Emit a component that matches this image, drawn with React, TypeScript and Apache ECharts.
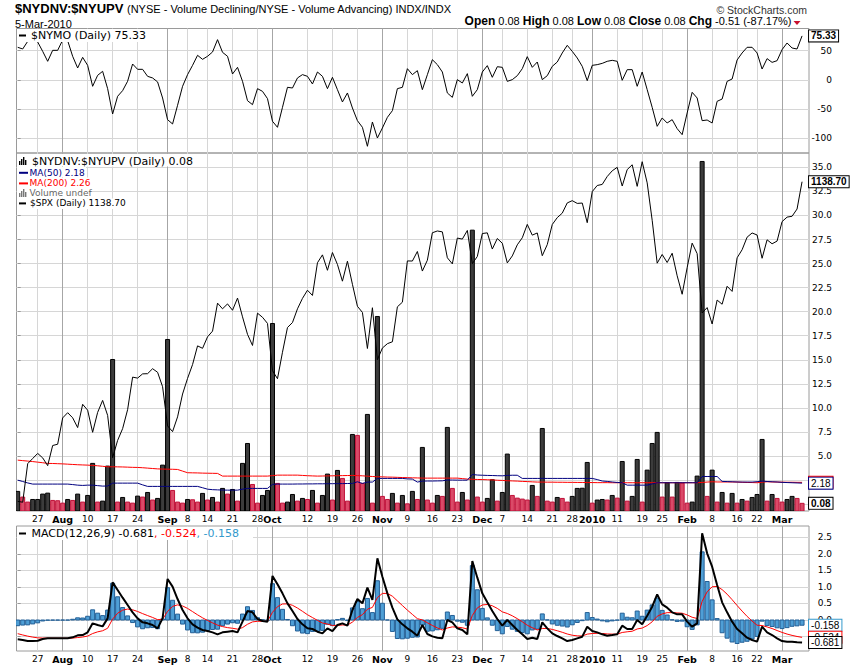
import React, { useEffect, useRef } from "react";
import * as echarts from "echarts";

// ---------- trading days (categories) ----------
const julDays = [21, 22, 23, 24, 27, 28, 29, 30, 31];
const augDays = [3, 4, 5, 6, 7, 10, 11, 12, 13, 14, 17, 18, 19, 20, 21, 24, 25, 26, 27, 28, 31];
const sepDays = [1, 2, 3, 4, 8, 9, 10, 11, 14, 15, 16, 17, 18, 21, 22, 23, 24, 25, 28, 29, 30];
const octDays = [1, 2, 5, 6, 7, 8, 9, 12, 13, 14, 15, 16, 19, 20, 21, 22, 23, 26, 27, 28, 29, 30];
const novDays = [2, 3, 4, 5, 6, 9, 10, 11, 12, 13, 16, 17, 18, 19, 20, 23, 24, 25, 27, 30];
const decDays = [1, 2, 3, 4, 7, 8, 9, 10, 11, 14, 15, 16, 17, 18, 21, 22, 23, 24, 28, 29, 30, 31];
const janDays = [4, 5, 6, 7, 8, 11, 12, 13, 14, 15, 19, 20, 21, 22, 25, 26, 27, 28, 29];
const febDays = [1, 2, 3, 4, 5, 8, 9, 10, 11, 12, 16, 17, 18, 19, 22, 23, 24, 25, 26];
const marDays = [1, 2, 3, 4, 5];

const pad = (d: number) => (d < 10 ? "0" + d : "" + d);
const block = (ym: string, days: number[]) => days.map((d) => `${ym}-${pad(d)}`);
const dates = [
  ...block("2009-07", julDays), ...block("2009-08", augDays), ...block("2009-09", sepDays),
  ...block("2009-10", octDays), ...block("2009-11", novDays), ...block("2009-12", decDays),
  ...block("2010-01", janDays), ...block("2010-02", febDays), ...block("2010-03", marDays),
];

// ---------- x tick labels ----------
const tickDates = [
  "2009-07-27", "2009-08-03", "2009-08-10", "2009-08-17", "2009-08-24", "2009-09-01", "2009-09-08",
  "2009-09-14", "2009-09-21", "2009-09-28", "2009-10-01", "2009-10-12", "2009-10-19", "2009-10-26",
  "2009-11-02", "2009-11-09", "2009-11-16", "2009-11-23", "2009-12-01", "2009-12-07", "2009-12-14",
  "2009-12-21", "2009-12-28", "2010-01-04", "2010-01-11", "2010-01-19", "2010-01-25", "2010-02-01",
  "2010-02-08", "2010-02-16", "2010-02-22", "2010-03-01",
];
const tickTexts = [
  "27", "Aug", "10", "17", "24", "Sep", "8", "14", "21", "28", "Oct", "12", "19", "26", "Nov", "9",
  "16", "23", "Dec", "7", "14", "21", "28", "2010", "11", "19", "25", "Feb", "8", "16", "22", "Mar",
];

// ---------- y ticks ----------
const nymoTicks = [-100, -50, 0, 50];
const ratioTicks = [0, 2.5, 5, 7.5, 10, 12.5, 15, 17.5, 20, 22.5, 25, 27.5, 30, 32.5, 35];
const ratioLabels = [5, 7.5, 10, 12.5, 15, 17.5, 20, 22.5, 25, 27.5, 30, 32.5, 35];
const macdTicks = [-0.5, 0, 0.5, 1, 1.5, 2, 2.5];
const macdLabels = [0, 0.5, 1, 1.5, 2, 2.5];

// ---------- series values ----------
const nymo = [
  55.8, 52.9, 66.0, 80.3, 64.9, 48.9, 31.8, 50.6, 50.6, 68.3,
  67.2, 40.4, 20.4, 38.6, 24.9, -11.0, 7.8, 14.7, -15.0, -58.4,
  -28.1, -18.4, -2.4, 27.2, 18.1, 18.1, 6.1, 3.3, -3.5, -31.0,
  -68.1, -75.5, -43.5, -11.0, 9.0, 24.9, 42.1, 35.2, 40.4, 47.8,
  68.9, 47.2, 40.4, 10.1, 21.5, -2.4, -35.6, -42.4, -15.0, -19.6,
  -32.1, -70.9, -81.2, -47.0, -12.7, -13.9, 3.3, 9.0, 6.1, -7.0,
  13.5, 6.1, -15.0, 4.4, -16.7, -37.8, -22.4, -48.1, -69.8, -81.2,
  -113.7, -72.1, -99.5, -82.4, -64.1, -52.7, -15.0, -12.7, 19.2, 9.0,
  15.8, -16.7, 8.9, 34.6, 26.1, 13.5, -22.4, -29.9, 0.4, -5.3,
  10.7, -28.1, -16.7, 13.5, 24.4, 4.4, 22.6, 21.5, -2.5, 0.4,
  7.2, 19.2, 39.8, 21.5, 30.6, 0.4, 7.2, 23.2, 30.6, 46.1,
  59.2, 48.9, 37.5, 23.2, -1.3, 24.9, 26.1, 28.3, 31.8, 33.5,
  31.8, -0.7, 17.5, 17.5, -11.0, 13.5, -16.7, -47.0, -79.5, -65.2,
  -73.8, -68.1, -83.5, -93.8, -56.7, -21.3, -31.0, -69.8, -68.7, -73.8,
  -36.7, -32.8, -2.5, 1.5, 34.1, 46.1, 55.8, 55.8, 46.1, 18.6,
  36.4, 30.0, 32.9, 51.8, 63.2, 54.6, 52.9, 75.33,
];

const ratio = [
  1.32, 0.73, 0.21, 0.48, 0.48, 1.04, 1.14, 0.38, 0.35, 0.10,
  0.48, 0.38, 1.04, 0.21, 0.90, 4.23, 0.21, 0.31, 3.95, 15.03,
  0.21, 0.69, 0.21, 0.10, 0.83, 0.73, 1.21, 0.42, 0.59, 4.05,
  17.11, 1.42, 0.21, 0.10, 0.48, 0.45, 0.21, 1.11, 0.42, 0.69,
  0.21, 1.63, 1.04, 1.52, 0.31, 4.23, 6.30, 2.04, 0.10, 0.90,
  1.42, 18.77, 2.15, 0.10, 0.21, 1.00, 0.31, 0.59, 0.48, 1.42,
  0.10, 0.90, 3.12, 0.42, 3.50, 2.67, 0.31, 7.24, 7.14, 2.15,
  9.32, 0.10, 19.50, 0.80, 0.48, 1.11, 0.10, 0.90, 0.03, 1.32,
  0.48, 5.89, 0.42, 0.10, 0.90, 0.80, 7.97, 1.63, 0.21, 1.21,
  0.42, 28.47, 0.73, 0.21, 0.59, 2.53, 0.31, 1.21, 5.20, 0.90,
  0.62, 0.52, 0.42, 1.94, 0.80, 7.86, 0.31, 0.21, 0.69, 0.59,
  0.21, 0.80, 1.63, 1.65, 4.33, 0.10, 0.42, 0.48, 0.42, 0.90,
  0.62, 4.43, 0.31, 0.80, 4.64, 0.21, 3.53, 6.30, 7.45, 0.73,
  2.22, 0.73, 2.25, 2.18, 0.10, 0.21, 2.91, 35.61, 0.80, 3.53,
  0.21, 1.21, 0.10, 1.11, 0.10, 0.48, 0.31, 0.69, 1.00, 6.72,
  0.31, 1.00, 0.59, 0.21, 0.48, 0.80, 0.59, 0.08,
];

const ma50 = [
  2.49, 2.35, 2.20, 2.08, 2.08, 2.08, 2.08, 2.08, 2.08, 2.08,
  2.08, 2.03, 1.97, 1.94, 1.97, 1.97, 1.92, 1.87, 1.88, 2.18,
  2.18, 2.18, 2.18, 2.18, 2.18, 2.00, 1.84, 1.84, 1.84, 1.84,
  1.84, 1.84, 1.84, 1.84, 1.84, 1.84, 1.84, 1.70, 1.55, 1.50,
  1.48, 1.46, 1.45, 1.45, 1.45, 1.55, 1.63, 1.63, 1.63, 1.63,
  1.63, 2.05, 2.08, 2.08, 2.08, 2.08, 2.09, 2.09, 2.10, 2.10,
  2.11, 2.11, 2.12, 2.12, 2.13, 2.13, 2.14, 2.15, 2.32, 2.15,
  2.29, 2.29, 2.67, 2.67, 2.67, 2.67, 2.67, 2.67, 2.62, 2.60,
  2.29, 2.39, 2.40, 2.40, 2.41, 2.42, 2.50, 2.50, 2.49, 2.49,
  2.49, 3.08, 3.02, 3.00, 2.98, 2.97, 2.95, 2.94, 2.98, 3.00,
  3.00, 2.67, 2.67, 2.67, 2.67, 2.67, 2.67, 2.67, 2.67, 2.67,
  2.67, 2.67, 2.67, 2.67, 2.67, 2.67, 2.55, 2.40, 2.36, 2.30,
  2.25, 2.22, 1.97, 1.97, 1.97, 1.97, 1.97, 2.10, 2.22, 2.22,
  2.22, 2.22, 2.22, 2.22, 2.22, 2.22, 2.22, 2.87, 2.87, 2.87,
  2.87, 2.36, 2.34, 2.32, 2.30, 2.29, 2.29, 2.29, 2.33, 2.39,
  2.35, 2.32, 2.30, 2.26, 2.24, 2.22, 2.20, 2.18,
];

const ma200 = [
  4.57, 4.52, 4.47, 4.42, 4.36, 4.30, 4.23, 4.22, 4.20, 4.18,
  4.15, 4.12, 4.09, 4.07, 4.05, 4.02, 3.98, 3.93, 3.88, 3.88,
  3.87, 3.86, 3.84, 3.82, 3.81, 3.78, 3.74, 3.70, 3.66, 3.64,
  3.63, 3.62, 3.60, 3.43, 3.26, 3.25, 3.24, 3.22, 3.21, 3.20,
  3.19, 2.91, 2.91, 2.91, 2.91, 2.91, 2.91, 2.91, 2.91, 2.91,
  2.91, 2.96, 3.01, 3.01, 3.01, 3.01, 3.01, 2.98, 2.95, 2.93,
  2.91, 2.92, 2.93, 2.94, 2.95, 2.96, 2.97, 2.98, 2.96, 2.94,
  2.90, 2.87, 2.84, 2.83, 2.81, 2.80, 2.78, 2.76, 2.75, 2.73,
  2.72, 2.70, 2.70, 2.70, 2.70, 2.70, 2.70, 2.70, 2.70, 2.65,
  2.60, 2.58, 2.56, 2.55, 2.53, 2.51, 2.48, 2.46, 2.43, 2.41,
  2.39, 2.36, 2.34, 2.31, 2.29, 2.29, 2.28, 2.28, 2.27, 2.27,
  2.26, 2.26, 2.25, 2.25, 2.24, 2.24, 2.23, 2.23, 2.23, 2.22,
  2.22, 2.22, 2.22, 2.22, 2.22, 2.22, 2.22, 2.22, 2.22, 2.22,
  2.22, 2.22, 2.22, 2.22, 2.22, 2.22, 2.22, 2.25, 2.29, 2.32,
  2.30, 2.30, 2.30, 2.30, 2.29, 2.27, 2.25, 2.24, 2.22, 2.28,
  2.32, 2.30, 2.29, 2.28, 2.27, 2.27, 2.26, 2.26,
];

const spx = [
  954.58, 954.07, 976.29, 979.26, 982.18, 979.62, 975.15, 986.75, 987.48, 1002.63,
  1005.65, 1002.72, 997.08, 1010.48, 1007.1, 994.35, 1005.81, 1012.73, 1004.09, 979.73,
  989.67, 996.46, 1007.37, 1026.13, 1025.57, 1028.0, 1028.12, 1030.98, 1028.93, 1020.62,
  998.04, 994.75, 1003.24, 1016.4, 1025.39, 1033.37, 1044.14, 1042.73, 1049.34, 1052.63,
  1068.76, 1065.49, 1068.3, 1064.66, 1071.66, 1060.87, 1050.78, 1044.38, 1062.98, 1060.61,
  1057.08, 1029.85, 1025.21, 1040.46, 1054.72, 1057.58, 1065.48, 1071.49, 1076.19, 1073.19,
  1092.02, 1096.56, 1087.68, 1097.91, 1091.06, 1081.4, 1092.91, 1079.6, 1066.95, 1063.41,
  1042.63, 1066.11, 1036.19, 1042.88, 1045.41, 1046.5, 1066.63, 1069.3, 1093.08, 1093.01,
  1098.51, 1087.24, 1093.48, 1109.3, 1110.32, 1109.8, 1094.9, 1091.38, 1106.24, 1105.65,
  1110.63, 1091.49, 1095.63, 1108.86, 1109.24, 1099.92, 1105.98, 1103.25, 1091.94, 1095.95,
  1102.35, 1106.41, 1114.11, 1107.93, 1109.18, 1096.08, 1102.47, 1114.05, 1118.02, 1120.59,
  1126.48, 1127.78, 1126.2, 1126.42, 1115.1, 1132.99, 1136.52, 1137.14, 1141.69, 1144.98,
  1146.98, 1136.22, 1145.68, 1148.46, 1136.03, 1150.23, 1138.04, 1116.48, 1091.76, 1096.78,
  1092.17, 1097.5, 1084.53, 1073.87, 1089.19, 1103.32, 1097.28, 1063.11, 1066.19, 1056.74,
  1070.52, 1068.13, 1078.47, 1075.51, 1094.87, 1099.51, 1106.75, 1109.17, 1108.01, 1094.6,
  1105.24, 1102.94, 1104.49, 1115.71, 1118.31, 1118.79, 1122.97, 1138.7,
];

const macd = [
  -0.585, -0.605, -0.635, -0.635, -0.625, -0.575, -0.554, -0.554, -0.554, -0.554,
  -0.554, -0.524, -0.464, -0.454, -0.373, -0.101, -0.151, -0.192, 0.050, 1.139,
  0.907, 0.675, 0.454, 0.232, 0.050, -0.071, -0.101, -0.151, -0.252, 0.050,
  1.240, 1.008, 0.635, 0.302, 0.050, -0.131, -0.232, -0.302, -0.333, -0.373,
  -0.433, -0.373, -0.353, -0.333, -0.373, -0.050, 0.272, 0.232, 0.030, -0.030,
  -0.050, 1.331, 1.079, 0.806, 0.504, 0.272, 0.030, -0.131, -0.252, -0.272,
  -0.353, -0.403, -0.252, -0.333, -0.151, -0.101, -0.171, 0.302, 0.635, 0.504,
  0.978, 0.605, 1.865, 1.310, 0.806, 0.373, 0.020, -0.131, -0.252, -0.353,
  -0.474, -0.151, -0.423, -0.494, -0.534, -0.554, 0.000, -0.071, -0.252, -0.302,
  -0.433, 1.784, 1.280, 0.806, 0.534, 0.272, 0.030, -0.171, 0.000, -0.151,
  -0.302, -0.433, -0.575, -0.534, -0.575, -0.071, -0.252, -0.403, -0.484, -0.554,
  -0.635, -0.605, -0.554, -0.504, -0.202, -0.333, -0.373, -0.433, -0.474, -0.454,
  -0.433, -0.171, -0.272, -0.272, 0.000, -0.131, 0.131, 0.403, 0.776, 0.474,
  0.373, 0.232, 0.171, 0.171, -0.050, -0.202, -0.101, 2.621, 2.016, 1.613,
  1.058, 0.534, 0.232, -0.050, -0.272, -0.403, -0.534, -0.605, -0.655, -0.202,
  -0.373, -0.454, -0.554, -0.635, -0.655, -0.655, -0.675, -0.681,
];

const signal = [
  -0.413, -0.452, -0.488, -0.517, -0.539, -0.546, -0.547, -0.549, -0.550, -0.551,
  -0.551, -0.546, -0.530, -0.514, -0.486, -0.409, -0.358, -0.325, -0.249, 0.028,
  0.205, 0.298, 0.330, 0.309, 0.258, 0.193, 0.134, 0.077, 0.011, 0.019,
  0.263, 0.412, 0.457, 0.425, 0.351, 0.254, 0.157, 0.066, -0.014, -0.086,
  -0.155, -0.199, -0.230, -0.250, -0.275, -0.230, -0.129, -0.057, -0.039, -0.038,
  -0.040, 0.234, 0.403, 0.484, 0.488, 0.445, 0.362, 0.263, 0.160, 0.074,
  -0.012, -0.090, -0.123, -0.164, -0.162, -0.150, -0.154, -0.063, 0.077, 0.162,
  0.326, 0.381, 0.678, 0.804, 0.805, 0.719, 0.579, 0.438, 0.299, 0.169,
  0.040, 0.002, -0.083, -0.165, -0.239, -0.302, -0.242, -0.208, -0.217, -0.234,
  -0.274, 0.138, 0.366, 0.455, 0.470, 0.430, 0.351, 0.246, 0.197, 0.127,
  0.041, -0.053, -0.158, -0.233, -0.301, -0.255, -0.255, -0.284, -0.325, -0.371,
  -0.423, -0.460, -0.479, -0.484, -0.427, -0.408, -0.401, -0.407, -0.421, -0.427,
  -0.428, -0.377, -0.356, -0.340, -0.271, -0.244, -0.168, -0.054, 0.112, 0.184,
  0.222, 0.224, 0.214, 0.205, 0.154, 0.083, 0.046, 0.561, 0.852, 1.004,
  1.015, 0.919, 0.781, 0.615, 0.438, 0.269, 0.109, -0.034, -0.158, -0.167,
  -0.209, -0.258, -0.318, -0.375, -0.425, -0.465, -0.498, -0.524,
];

const hist = [
  -0.172, -0.153, -0.147, -0.118, -0.086, -0.029, -0.007, -0.005, -0.004, -0.003,
  -0.003, 0.022, 0.066, 0.060, 0.113, 0.308, 0.207, 0.133, 0.299, 1.111,
  0.702, 0.377, 0.124, -0.077, -0.208, -0.264, -0.235, -0.228, -0.263, 0.031,
  0.977, 0.596, 0.178, -0.123, -0.301, -0.385, -0.389, -0.368, -0.319, -0.287,
  -0.278, -0.174, -0.123, -0.083, -0.098, 0.180, 0.401, 0.289, 0.069, 0.008,
  -0.010, 1.097, 0.676, 0.322, 0.016, -0.173, -0.332, -0.394, -0.412, -0.346,
  -0.341, -0.313, -0.129, -0.169, 0.011, 0.049, -0.017, 0.365, 0.558, 0.342,
  0.652, 0.224, 1.187, 0.506, 0.001, -0.346, -0.559, -0.569, -0.551, -0.522,
  -0.514, -0.153, -0.340, -0.329, -0.295, -0.252, 0.242, 0.137, -0.035, -0.068,
  -0.159, 1.646, 0.914, 0.351, 0.064, -0.158, -0.321, -0.417, -0.197, -0.278,
  -0.343, -0.380, -0.417, -0.301, -0.274, 0.184, 0.003, -0.119, -0.159, -0.183,
  -0.212, -0.145, -0.075, -0.020, 0.225, 0.075, 0.028, -0.026, -0.053, -0.027,
  -0.005, 0.206, 0.084, 0.068, 0.271, 0.113, 0.299, 0.457, 0.664, 0.290,
  0.151, 0.008, -0.043, -0.034, -0.204, -0.285, -0.147, 2.060, 1.164, 0.609,
  0.043, -0.385, -0.549, -0.665, -0.710, -0.672, -0.643, -0.571, -0.497, -0.035,
  -0.164, -0.196, -0.236, -0.260, -0.230, -0.190, -0.177, -0.158,
];

// ---------- layout / style constants ----------
const FONT = "'DejaVu Sans', Verdana, sans-serif";
const AFONT = "'Liberation Sans', Arial, sans-serif";
const GL = 16.5;
const GW = 792.5;
const X_MIN = -0.24;
const X_MAX = 158.39;

const tickIdx = tickDates.map((d) => dates.indexOf(d));
const tickBold = tickTexts.map((t) => isNaN(Number(t)) || t === "2010");
const splitColors = tickBold.map((b) => (b ? "#a6a6a6" : "#d6d6d6"));

const pairs = (arr: number[]) => arr.map((v, i) => [i, v]);

function xAxisFor(g: number, showLabels: boolean) {
  return {
    type: "value",
    gridIndex: g,
    min: X_MIN,
    max: X_MAX,
    axisLine: { show: false },
    axisTick: { show: false, customValues: tickIdx },
    axisLabel: {
      show: showLabels,
      customValues: tickIdx,
      margin: 3,
      color: "#000",
      fontFamily: FONT,
      fontSize: 9,
      formatter: (v: number) => {
        const k = tickIdx.indexOf(Math.round(v));
        if (k < 0) return "";
        return tickBold[k] ? `{b|${tickTexts[k]}}` : tickTexts[k];
      },
      rich: { b: { fontFamily: FONT, fontSize: 9.5, fontWeight: "bold", color: "#000" } },
    },
    splitLine: { show: true, lineStyle: { color: splitColors, width: 1 } },
  };
}

function yAxisFor(g: number, min: number, max: number, ticks: number[], labels: number[], fmt: (v: number) => string) {
  return {
    type: "value",
    gridIndex: g,
    position: "right",
    min,
    max,
    axisLine: { show: false },
    axisTick: { show: true, customValues: ticks, length: 3, lineStyle: { color: "#999" } },
    axisLabel: {
      show: true,
      customValues: labels,
      formatter: fmt,
      align: "right",
      margin: 23,
      color: "#000",
      fontFamily: FONT,
      fontSize: 9,
    },
    splitLine: { show: true, lineStyle: { color: "#d6d6d6", width: 1 } },
  };
}

function endBox(border: string, bold: boolean, digits: number) {
  return {
    show: true,
    formatter: (p: any) => Number(p.value[1]).toFixed(digits),
    distance: 7,
    color: "#000",
    fontFamily: AFONT,
    fontSize: 10,
    fontWeight: bold ? "bold" : "normal",
    backgroundColor: "#fff",
    borderColor: border,
    borderWidth: 1,
    padding: [1, 2, 0, 2],
    lineHeight: 10,
  };
}

function lineSeries(name: string, xi: number, yi: number, data: number[], color: string, width: number, label: any) {
  return {
    type: "line",
    name,
    xAxisIndex: xi,
    yAxisIndex: yi,
    data: pairs(data),
    symbol: "none",
    showSymbol: false,
    lineStyle: { color, width },
    itemStyle: { color },
    endLabel: label,
    silent: true,
  };
}

function txt(x: number, y: number, text: string, font: string, fill: string, align = "left", extra: any = {}) {
  return {
    type: "text",
    x,
    y,
    z: 100,
    silent: true,
    style: {
      text,
      font,
      fill,
      align,
      textAlign: align,
      verticalAlign: "middle",
      textVerticalAlign: "middle",
      ...extra,
    },
  };
}

function box(x: number, y: number, w: number, h: number, fill: string, z = 100) {
  return { type: "rect", z, silent: true, shape: { x, y, width: w, height: h }, style: { fill } };
}

function barIcon(x: number, bottom: number, color: string) {
  const hs = [4, 6, 8, 5];
  return hs.map((h, k) => box(x + k * 2, bottom - h, 1.4, h, color));
}

function buildOption() {
  const grids = [
    { top: 28.5, height: 124.5 },
    { top: 153, height: 358 },
    { top: 526, height: 125 },
  ].map((g) => ({
    ...g,
    left: GL,
    width: GW,
    show: true,
    borderColor: "#9a9a9a",
    borderWidth: 1,
    backgroundColor: "transparent",
    containLabel: false,
  }));

  const barItem = (params: any, api: any) => {
    const i = api.value(0);
    const v = api.value(1);
    const top = api.coord([i, v]);
    const cs = params.coordSys;
    const bottom = cs.y + cs.height;
    const w = api.size([1, 0])[0] * 0.8;
    const up = i === 0 || v >= ratio[i - 1];
    return {
      type: "rect",
      shape: { x: top[0] - w / 2, y: top[1], width: w, height: bottom - top[1] },
      style: {
        fill: up ? "#3c3c3c" : "#da4a68",
        stroke: up ? "#000000" : "#c01038",
        lineWidth: 1,
      },
    };
  };

  const histItem = (params: any, api: any) => {
    const i = api.value(0);
    const v = api.value(1);
    const p1 = api.coord([i, v]);
    const p0 = api.coord([i, 0]);
    const w = api.size([1, 0])[0] * 0.8;
    return {
      type: "rect",
      shape: { x: p1[0] - w / 2, y: Math.min(p0[1], p1[1]), width: w, height: Math.abs(p0[1] - p1[1]) },
      style: { fill: "#4f9fd6", stroke: "#235f96", lineWidth: 1 },
    };
  };

  const last = (a: number[]) => a[a.length - 1];

  const graphics: any[] = [
    // header
    txt(15, 8, "$NYDNV:$NYUPV", `bold 13px ${AFONT}`, "#000"),
    txt(127, 9, "(NYSE - Volume Declining/NYSE - Volume Advancing) INDX/INDX", `11px ${AFONT}`, "#000"),
    txt(15, 23.7, "5-Mar-2010", `11px ${AFONT}`, "#000"),
    txt(807, 9.5, "\u00a9 StockCharts.com", `10.5px ${AFONT}`, "#333", "right"),
    txt(
      791.5,
      20.5,
      "{b|Open} 0.08 {b|High} 0.08 {b|Low} 0.08 {b|Close} 0.08 {b|Chg} -0.51 (-87.17%)",
      `11px ${AFONT}`,
      "#000",
      "right",
      { rich: { b: { font: `bold 12px ${AFONT}`, fill: "#000" } } }
    ),
    { type: "polygon", z: 100, silent: true, shape: { points: [[793.5, 21], [800.5, 21], [797, 25]] }, style: { fill: "#c8102e" } },

    // top panel legend
    box(17, 29, 131, 13, "#fff", 90),
    box(19, 34.5, 7, 2, "#000"),
    txt(31, 35.5, `$NYMO (Daily) ${last(nymo).toFixed(2)}`, `11px ${FONT}`, "#000"),

    // main panel legend
    box(17, 154, 177, 12.5, "#fff", 90),
    box(17, 167, 69, 10.5, "#fff", 90),
    box(17, 177.5, 75, 10.5, "#fff", 90),
    box(17, 188, 72, 10.5, "#fff", 90),
    box(17, 198.5, 111, 10.5, "#fff", 90),
    ...barIcon(19, 165, "#000"),
    txt(32, 161.2, `$NYDNV:$NYUPV (Daily) ${last(ratio).toFixed(2)}`, `11px ${FONT}`, "#000"),
    box(19, 171.8, 9, 2, "#000080"),
    txt(29.5, 172.7, `MA(50) ${last(ma50).toFixed(2)}`, `9px ${FONT}`, "#000080"),
    box(19, 182.4, 9, 2, "#ff0000"),
    txt(29.5, 183.3, `MA(200) ${last(ma200).toFixed(2)}`, `9px ${FONT}`, "#ff0000"),
    ...barIcon(19, 197, "#777"),
    txt(29.5, 193.3, "Volume undef", `9px ${FONT}`, "#666"),
    box(19, 202.4, 7, 2, "#000"),
    txt(30, 203.3, `$SPX (Daily) ${last(spx).toFixed(2)}`, `9px ${FONT}`, "#000"),

    // MACD legend
    box(17, 527, 236, 13, "#fff", 90),
    box(19, 532.5, 7, 2, "#000"),
    txt(
      31.5,
      533.5,
      `{k|MACD(12,26,9) ${last(macd).toFixed(3)}}{r|, ${last(signal).toFixed(3)}}{c|, ${last(hist).toFixed(3)}}`,
      `11px ${FONT}`,
      "#000",
      "left",
      {
        rich: {
          k: { font: `11px ${FONT}`, fill: "#000" },
          r: { font: `11px ${FONT}`, fill: "#ff0000" },
          c: { font: `11px ${FONT}`, fill: "#3399cc" },
        },
      }
    ),
  ];

  return {
    animation: false,
    backgroundColor: "#fff",
    textStyle: { fontFamily: FONT },
    grid: grids,
    xAxis: [xAxisFor(0, false), xAxisFor(1, true), xAxisFor(2, true)],
    yAxis: [
      yAxisFor(0, -125.2, 88.0, nymoTicks, nymoTicks, (v) => String(v)),
      yAxisFor(1, -0.717, 36.49, ratioTicks, ratioLabels, (v) => v.toFixed(1)),
      { type: "value", gridIndex: 1, position: "left", min: 949.02, max: 1155.24, show: false },
      yAxisFor(2, -0.937, 2.842, macdTicks, macdLabels, (v) => v.toFixed(1)),
    ],
    series: [
      lineSeries("NYMO", 0, 0, nymo, "#000", 1, endBox("#000", true, 2)),
      {
        type: "custom",
        name: "ratio",
        xAxisIndex: 1,
        yAxisIndex: 1,
        data: pairs(ratio),
        renderItem: barItem,
        clip: true,
        silent: true,
      },
      {
        ...lineSeries("ratioLabel", 1, 1, ratio, "#000", 0, endBox("#000", true, 2)),
        lineStyle: { width: 0, opacity: 0 },
      },
      lineSeries("MA200", 1, 1, ma200, "#ff0000", 1, endBox("#ff0000", false, 2)),
      lineSeries("MA50", 1, 1, ma50, "#000080", 1, endBox("#000080", false, 2)),
      lineSeries("SPX", 1, 2, spx, "#000", 1, endBox("#000", true, 2)),
      {
        type: "custom",
        name: "hist",
        xAxisIndex: 2,
        yAxisIndex: 3,
        data: pairs(hist),
        renderItem: histItem,
        clip: true,
        silent: true,
      },
      {
        ...lineSeries("histLabel", 2, 3, hist, "#3399cc", 0, endBox("#3399cc", false, 3)),
        lineStyle: { width: 0, opacity: 0 },
      },
      lineSeries("Signal", 2, 3, signal, "#ff0000", 1, endBox("#ff0000", false, 3)),
      lineSeries("MACD", 2, 3, macd, "#000", 2, endBox("#000", false, 3)),
    ],
    graphic: { elements: graphics },
  };
}

export default function App() {
  const ref = useRef<HTMLDivElement>(null);
  useEffect(() => {
    if (!ref.current) return;
    const chart = echarts.init(ref.current, undefined, { renderer: "svg" });
    chart.setOption(buildOption() as any);
    return () => {
      chart.dispose();
    };
  }, []);
  return (
    <div
      ref={ref}
      style={{ position: "absolute", left: 0, top: 0, width: 850, height: 668, background: "#fff" }}
    />
  );
}
